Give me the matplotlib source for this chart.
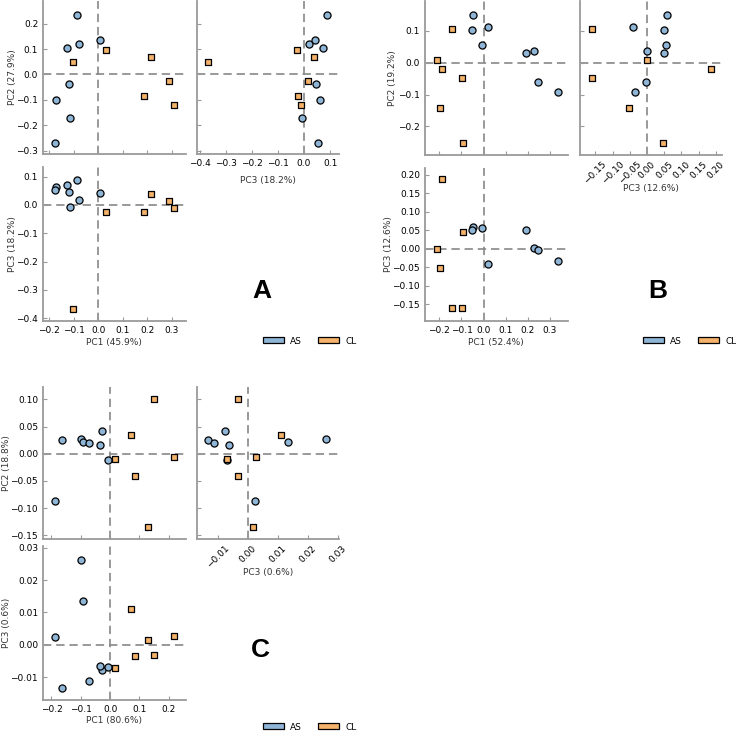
import matplotlib
matplotlib.use("Agg")
import matplotlib.pyplot as plt
from matplotlib.patches import Patch
from matplotlib.ticker import MultipleLocator

# Panel A - PCA coordinates
a_as_pc1 = [-0.088, -0.128, -0.078, 0.007, -0.121, -0.173, -0.117, -0.178]
a_as_pc2 = [0.233, 0.105, 0.120, 0.136, -0.039, -0.101, -0.172, -0.269]
a_as_pc3 = [0.087, 0.072, 0.018, 0.043, 0.047, 0.063, -0.008, 0.052]
a_cl_pc1 = [-0.105, 0.031, 0.215, 0.187, 0.289, 0.308]
a_cl_pc2 = [0.050, 0.095, 0.067, -0.086, -0.027, -0.120]
a_cl_pc3 = [-0.368, -0.025, 0.039, -0.024, 0.015, -0.012]
a_labels = ["PC1 (45.9%)", "PC2 (27.9%)", "PC3 (18.2%)"]

# Panel B
b_as_pc1 = [-0.047, -0.053, 0.021, -0.007, 0.190, 0.228, 0.248, 0.335]
b_as_pc2 = [0.149, 0.104, 0.111, 0.056, 0.031, 0.037, -0.060, -0.091]
b_as_pc3 = [0.058, 0.050, -0.042, 0.056, 0.050, 0.001, -0.004, -0.034]
b_cl_pc1 = [-0.144, -0.210, -0.190, -0.099, -0.195, -0.094]
b_cl_pc2 = [0.107, 0.009, -0.019, -0.047, -0.142, -0.252]
b_cl_pc3 = [-0.160, -0.001, 0.187, -0.160, -0.053, 0.045]
b_labels = ["PC1 (52.4%)", "PC2 (19.2%)", "PC3 (12.6%)"]

# Panel C
c_as_pc1 = [-0.163, -0.098, -0.092, -0.073, -0.026, -0.035, -0.008, -0.189]
c_as_pc2 = [0.025, 0.028, 0.021, 0.020, 0.042, 0.016, -0.012, -0.087]
c_as_pc3 = [-0.0133, 0.0261, 0.0134, -0.0112, -0.0076, -0.0064, -0.0069, 0.0025]
c_cl_pc1 = [0.150, 0.073, 0.018, 0.218, 0.086, 0.130]
c_cl_pc2 = [0.101, 0.034, -0.010, -0.006, -0.041, -0.135]
c_cl_pc3 = [-0.0032, 0.0111, -0.0071, 0.0028, -0.0034, 0.0016]
c_labels = ["PC1 (80.6%)", "PC2 (18.8%)", "PC3 (0.6%)"]

groups = ["AS", "CL"]

BLUE = "#8fb5d6"
ORANGE = "#f4b26a"
GREY = "#9a9a9a"
W, H = 736, 732
FS = 6.5

plt.rcParams["font.family"] = "DejaVu Sans"
plt.rcParams["font.size"] = FS
plt.rcParams["lines.scale_dashes"] = False


def box(x0, x1, y0, y1):
    # pixel box (top-left origin) -> figure fraction
    return [x0 / W, 1 - y1 / H, (x1 - x0) / W, (y1 - y0) / H]


def style_ax(ax):
    for s in ["top", "right"]:
        ax.spines[s].set_visible(False)
    for s in ["left", "bottom"]:
        ax.spines[s].set_color(GREY)
        ax.spines[s].set_linewidth(1.3)
    ax.tick_params(direction="in", length=3, width=0.8, color=GREY,
                   labelsize=FS, pad=3.5)
    ax.axhline(0, color="#888888", lw=1.2, dashes=(6, 3.5), zorder=1)
    ax.axvline(0, color="#888888", lw=1.2, dashes=(6, 3.5), zorder=1)


def scatter(ax, xa, ya, xc, yc):
    ax.scatter(xa, ya, s=26, marker="o", c=BLUE, edgecolors="k",
               linewidths=0.9, zorder=3)
    ax.scatter(xc, yc, s=24, marker="s", c=ORANGE, edgecolors="k",
               linewidths=0.9, zorder=3)


def put_label(ax, pbox, which, text, px, py):
    # place an axis label centred on a pixel position
    x0, x1, y0, y1 = pbox
    fx = (px - x0) / (x1 - x0)
    fy = (y1 - py) / (y1 - y0)
    if which == "x":
        ax.set_xlabel(text, fontsize=FS, color="#333333")
        ax.xaxis.set_label_coords(fx, fy)
        ax.xaxis.label.set_va("center")
    else:
        ax.set_ylabel(text, fontsize=FS, color="#333333")
        ax.yaxis.set_label_coords(fx, fy)
        ax.yaxis.label.set_va("center")


def panel(fig, geo, asd, cld, labels, lims, steps, letter, letter_xy,
          legend_xy, rotate, lab_pos):
    (cx1, cx2, cx3, cx4), (ry1, ry2, ry3, ry4) = geo
    b12 = (cx1, cx2, ry1, ry2)
    b32 = (cx3, cx4, ry1, ry2)
    b13 = (cx1, cx2, ry3, ry4)
    ax12 = fig.add_axes(box(*b12))
    ax32 = fig.add_axes(box(*b32))
    ax13 = fig.add_axes(box(*b13))
    p1a, p2a, p3a = asd
    p1c, p2c, p3c = cld

    scatter(ax12, p1a, p2a, p1c, p2c)
    scatter(ax32, p3a, p2a, p3c, p2c)
    scatter(ax13, p1a, p3a, p1c, p3c)

    for ax in (ax12, ax32, ax13):
        style_ax(ax)

    ax12.set_xlim(lims[0]); ax12.set_ylim(lims[1])
    ax32.set_xlim(lims[2]); ax32.set_ylim(lims[1])
    ax13.set_xlim(lims[0]); ax13.set_ylim(lims[2])

    ax12.xaxis.set_major_locator(MultipleLocator(steps[0]))
    ax13.xaxis.set_major_locator(MultipleLocator(steps[0]))
    ax12.yaxis.set_major_locator(MultipleLocator(steps[1]))
    ax32.yaxis.set_major_locator(MultipleLocator(steps[1]))
    ax32.xaxis.set_major_locator(MultipleLocator(steps[2]))
    ax13.yaxis.set_major_locator(MultipleLocator(steps[2]))

    ax12.tick_params(labelbottom=False)
    ax32.tick_params(labelleft=False)
    if rotate:
        for t in ax32.get_xticklabels():
            t.set_rotation(45)
            t.set_ha("center")

    put_label(ax12, b12, "y", labels[1], *lab_pos[0])
    put_label(ax32, b32, "x", labels[2], *lab_pos[1])
    put_label(ax13, b13, "y", labels[2], *lab_pos[2])
    put_label(ax13, b13, "x", labels[0], *lab_pos[3])

    fig.text(letter_xy[0] / W, 1 - letter_xy[1] / H, letter,
             family="Liberation Sans", weight="bold", fontsize=19,
             ha="center", va="center")

    handles = [Patch(facecolor=BLUE, edgecolor="k", lw=0.9),
               Patch(facecolor=ORANGE, edgecolor="k", lw=0.9)]
    fig.legend(handles, groups, loc="center",
               bbox_to_anchor=(legend_xy[0] / W, 1 - legend_xy[1] / H),
               ncol=2, frameon=False, fontsize=FS, handlelength=2.3,
               handleheight=0.6, handletextpad=0.7, columnspacing=1.8)


fig = plt.figure(figsize=(7.36, 7.32), dpi=100)

panel(fig, ((43, 186, 197, 339), (1, 154, 167, 321)),
      (a_as_pc1, a_as_pc2, a_as_pc3), (a_cl_pc1, a_cl_pc2, a_cl_pc3),
      a_labels, [(-0.226, 0.358), (-0.313, 0.289), (-0.41, 0.134)],
      (0.1, 0.1, 0.1), "A", (262, 291), (310, 341), False,
      [(12, 77), (268, 181), (12, 244), (114, 342)])

panel(fig, ((425, 568, 580, 722), (1, 155, 168, 321)),
      (b_as_pc1, b_as_pc2, b_as_pc3), (b_cl_pc1, b_cl_pc2, b_cl_pc3),
      b_labels, [(-0.265, 0.382), (-0.29, 0.194), (-0.195, 0.218)],
      (0.1, 0.1, 0.05), "B", (658, 291), (690, 341), True,
      [(393, 78), (651, 189), (388, 244), (496, 343)])

panel(fig, ((43, 186, 197, 339), (387, 539, 546, 700)),
      (c_as_pc1, c_as_pc2, c_as_pc3), (c_cl_pc1, c_cl_pc2, c_cl_pc3),
      c_labels, [(-0.229, 0.259), (-0.157, 0.123), (-0.017, 0.0305)],
      (0.1, 0.05, 0.01), "C", (260, 650), (310, 727), True,
      [(7, 463), (268, 572), (7, 623), (114, 721)])

fig.savefig("out.png", dpi=100)
